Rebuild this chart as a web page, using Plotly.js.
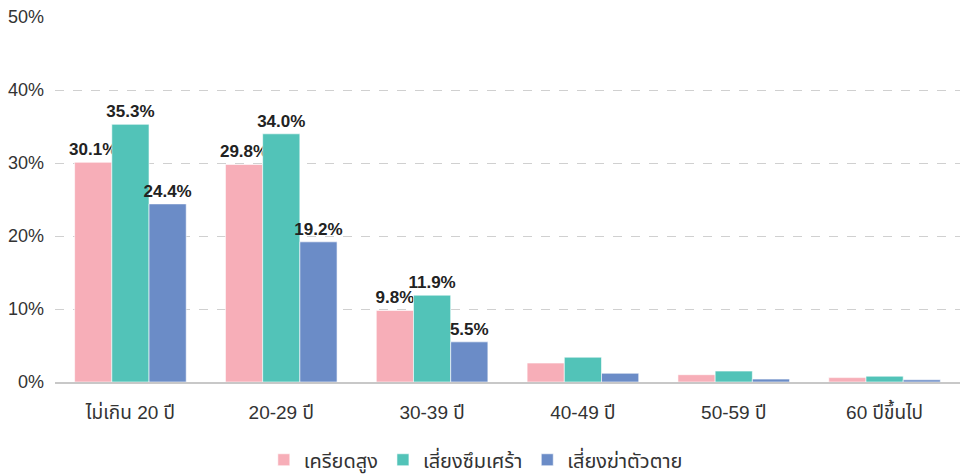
<!DOCTYPE html>
<html>
<head>
<meta charset="utf-8">
<script src="https://cdn.plot.ly/plotly-3.0.1.min.js"></script>
<style>
  html, body { margin: 0; padding: 0; background: #fff; }
  #plot { width: 965px; height: 474px; }
</style>
</head>
<body>
<div id="plot"></div>
<script>
// age groups
var ageGroups = ["ไม่เกิน 20 ปี", "20-29 ปี", "30-39 ปี", "40-49 ปี", "50-59 ปี", "60 ปีขึ้นไป"];

// percent of each group
var stress = [30.1, 29.8, 9.8, 2.6, 1.0, 0.6];
var depression = [35.3, 34.0, 11.9, 3.4, 1.5, 0.8];
var suicide = [24.4, 19.2, 5.5, 1.2, 0.4, 0.3];

// only the first three groups carry a label
function labels(vals) {
  return vals.map(function (v, i) { return i < 3 ? v.toFixed(1) + "%" : ""; });
}

var font = "Liberation Sans, Arial, Noto Sans Thai, sans-serif";

function makeTrace(name, vals, color) {
  return {
    x: ageGroups,
    y: vals,
    name: name,
    type: "bar",
    text: labels(vals),
    textposition: "outside",
    constraintext: "none",
    cliponaxis: false,
    textfont: { family: font, size: 17, color: "#222", weight: "bold" },
    marker: { color: color, line: { color: "rgba(255,255,255,0.6)", width: 1 } },
    hoverinfo: "x+y+name"
  };
}

var data = [
  makeTrace("เครียดสูง", stress, "#F7AEB8"),
  makeTrace("เสี่ยงซึมเศร้า", depression, "#52C3B8"),
  makeTrace("เสี่ยงฆ่าตัวตาย", suicide, "#6B8CC7")
];

var layout = {
  width: 965,
  height: 474,
  margin: { l: 55, r: 5, t: 17, b: 92, autoexpand: false },
  barmode: "group",
  bargap: 0.26,
  bargroupgap: 0,
  font: { family: font, size: 18, color: "#333" },
  paper_bgcolor: "#fff",
  plot_bgcolor: "#fff",
  showlegend: true,
  legend: {
    orientation: "h",
    x: 0.465, xanchor: "center",
    yref: "container",
    y: 0.03, yanchor: "middle",
    font: { size: 20, color: "#333" },
    itemwidth: 30,
    tracegroupgap: 0
  },
  xaxis: {
    automargin: false,
    showline: true,
    linecolor: "#c8c8c8",
    linewidth: 2,
    ticks: "",
    ticklabelstandoff: 12,
    tickfont: { size: 19, color: "#333" }
  },
  yaxis: {
    automargin: false,
    range: [0, 50],
    dtick: 10,
    ticksuffix: "%",
    showgrid: true,
    gridcolor: "#d0d0d0",
    griddash: "dash",
    gridwidth: 1,
    zeroline: false,
    tickfont: { size: 18, color: "#333" },
    ticklabelstandoff: 10
  }
};

Plotly.newPlot("plot", data, layout, { displayModeBar: false });
</script>
</body>
</html>
